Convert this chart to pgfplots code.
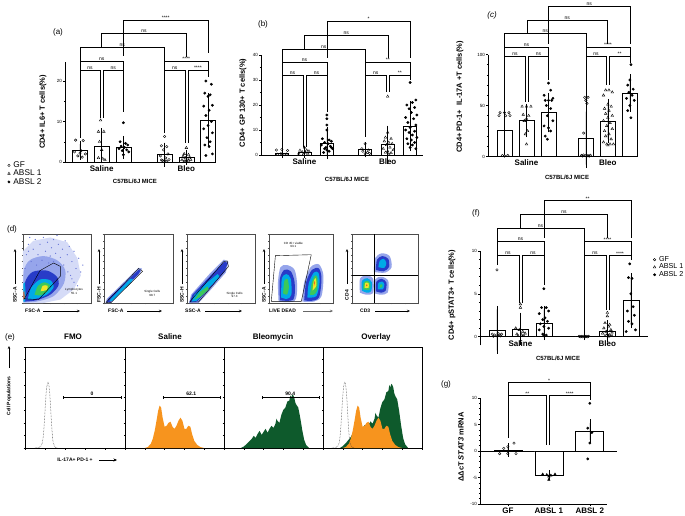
\documentclass[border=0pt]{standalone}
\usepackage{fontspec}
\setmainfont{Liberation Sans}
\usepackage{pgfplots}
\pgfplotsset{compat=1.18}
\usetikzlibrary{arrows.meta}
\definecolor{orng}{RGB}{247,148,30}
\definecolor{dgrn}{RGB}{14,90,44}
\definecolor{fjblue}{RGB}{40,60,200}
\definecolor{fjlight}{RGB}{150,165,235}
\definecolor{fjcyan}{RGB}{0,170,230}
\definecolor{fjgreen}{RGB}{60,200,90}
\definecolor{fjyellow}{RGB}{240,230,40}
\definecolor{fjred}{RGB}{240,90,30}
\newcommand\tk{\fontsize{4.5}{5}\selectfont}
\newcommand\sig{\fontsize{5}{5}\selectfont}
\newcommand\grp{\bfseries\fontsize{8}{8}\selectfont}
\newcommand\ylab{\bfseries\fontsize{7.5}{8}\selectfont}
\newcommand\mice{\bfseries\fontsize{6}{6}\selectfont}
\newcommand\pl{\fontsize{8}{8}\selectfont}
\newcommand\flab{\bfseries\fontsize{5}{5}\selectfont}
\newcommand\htitle{\bfseries\fontsize{8}{8}\selectfont}
\newcommand\tinyf{\fontsize{3}{3.4}\selectfont}
\newcommand\brk[6]{%
 \draw[line width=0.45pt] (#1,#4) -- (#1,#3) -- (#2,#3) -- (#2,#5);
 \node[font=\sig, above, inner sep=0.5pt] at ({(#1+#2)/2},#3) {#6};}
\pgfplotsset{
 prism/.style={scale only axis, clip=false, axis lines*=left,
  axis line style={line width=0.6pt}, tick align=outside,
  major tick length=2pt, minor tick length=1.2pt,
  tick style={black, line width=0.5pt},
  yticklabel style={font=\tk, inner sep=1pt},
  xticklabel style={font=\grp, inner sep=1.5pt},
  xtick style={draw=none},
  /pgf/number format/assume math mode=true,
  legend cell align=left,
  legend image code/.code={\draw[##1, only marks] plot coordinates {(3pt,0pt)}; \path[draw=none, fill=none] (0pt,-2pt) (7pt,2pt);},
  },
 barst/.style={ybar, bar width=#1, fill=white, draw=black, line width=0.6pt, forget plot,
   error bars/.cd, y dir=both, y explicit,
   error bar style={line width=0.5pt, black},
   error mark options={mark size=3.5pt, line width=0.5pt, black}},
 gf/.style={only marks, mark=o, mark size=1.25pt, mark options={line width=0.4pt, black}},
 ab1/.style={only marks, mark=triangle, mark size=1.5pt, mark options={line width=0.4pt, black}},
 ab2/.style={only marks, mark=*, mark size=1.2pt, mark options={black, fill=black}},
 flow/.style={scale only axis, xmin=0, xmax=100, ymin=0, ymax=100,
   axis line style={line width=0.35pt, black!70}, tick align=outside, tick pos=left,
   xtick={0,20,...,100}, ytick={0,20,...,100}, minor tick num=1,
   major tick length=1.3pt, minor tick length=0.8pt, tick style={black!70, line width=0.35pt},
   xticklabels={}, yticklabels={}},
 hist/.style={scale only axis, xmin=0, xmax=100, ymin=0, ymax=100,
   axis line style={line width=0.5pt, black}, tick align=outside, tick pos=left,
   xtick={0,20,...,100}, ytick={0,25,...,100}, minor x tick num=3, minor y tick num=1,
   major tick length=1.5pt, minor tick length=0.8pt, tick style={black, line width=0.4pt},
   xticklabels={}, yticklabels={}},
 leg/.style={legend style={draw=none, fill=none, font=\fontsize{8.3}{8.5}\selectfont,
   inner sep=0pt, nodes={inner sep=0.5pt}}},
}
\begin{document}
\begin{tikzpicture}
\useasboundingbox (0pt,0pt) rectangle (685pt,-516pt);
\fill[white] (0pt,0pt) rectangle (685pt,-516pt);

% ---------------- (a)
\begin{axis}[prism, leg, at={(65pt,-162pt)}, anchor=south west, width=150pt, height=100pt,
 xmin=-0.69, xmax=6.22, ymin=0, ymax=24.7, ytick={0,10,20}, minor y tick num=1,
 xtick={1,4.9}, xticklabels={Saline,Bleo},
 legend style={at={(-0.395,0.01)}, anchor=north west}]
\addplot[barst=15pt] coordinates {(0,2.9) +- (0,1.5) (1,4.0) +- (0,3.5) (2,3.6) +- (0,2.0)
 (3.9,1.8) +- (0,2.1) (4.9,1.1) +- (0,1.0) (5.9,10.4) +- (0,5.8)};
\addplot[gf] coordinates {(-0.2,5.4)(0.15,5.3)(-0.25,2.5)(0.05,2.8)(0.25,2.0)(-0.1,1.5)(0.1,1.2)(0.0,2.2)
 (3.9,6.3)(3.75,4.0)(4.0,3.8)(3.85,3.0)(4.05,2.0)(3.7,1.5)(3.95,1.0)(4.1,0.6)(3.8,0.4)(3.9,0.3)(4.0,0.2)(3.75,0.5)};
\addlegendentry{GF}
\addplot[ab1] coordinates {(0.95,10.3)(0.85,7.5)(1.1,7.5)(0.9,5.0)(1.0,3.0)(0.85,1.0)(1.15,0.5)(1.05,0.8)
 (4.9,3.5)(4.8,2.0)(5.0,1.8)(4.75,1.4)(5.05,1.2)(4.85,1.0)(4.95,0.8)(5.1,0.6)(4.7,0.5)(4.9,0.4)(5.0,0.3)(4.8,0.2)};
\addlegendentry{ABSL 1}
\addplot[ab2] coordinates {(2.0,9.7)(1.85,5.0)(2.1,4.6)(2.2,4.2)(1.9,3.9)(2.05,3.6)(1.8,3.3)(2.15,3.0)(1.95,2.8)(2.25,2.5)(2.0,1.8)
 (5.8,20.0)(6.05,19.2)(5.75,17.0)(6.0,16.6)(5.9,16.2)(6.1,14.0)(5.7,13.8)(5.95,12.8)(5.8,11.5)(6.05,10.0)(5.9,9.0)(5.7,8.2)(6.1,7.2)(5.85,6.0)(6.0,5.0)(5.75,4.2)(5.95,3.8)(6.1,2.0)(5.8,1.6)};
\addlegendentry{ABSL 2}
\end{axis}

% ---------------- (b)
\begin{axis}[prism, at={(261pt,-155pt)}, anchor=south west, width=162pt, height=100pt,
 xmin=-0.93, xmax=6.27, ymin=0, ymax=40, ytick={0,10,20,30,40}, minor y tick num=1,
 xtick={1,4.7}, xticklabels={Saline,Bleo}]
\addplot[barst=13pt] coordinates {(0,0.8) +- (0,0.6) (1,1.1) +- (0,0.9) (2,4.8) +- (0,5.0)
 (3.7,2.1) +- (0,1.6) (4.7,4.1) +- (0,6.3) (5.7,11.5) +- (0,8.5)};
\addplot[gf] coordinates {(-0.25,2.0)(0,2.2)(0.25,1.8)(-0.2,0.3)(0.1,0.2)(0.2,0.4)(-0.05,0.5)
 (3.7,4.5)(3.55,2.5)(3.85,2.0)(3.6,1.5)(3.8,1.0)(3.7,0.5)(3.9,0.6)};
\addplot[ab1] coordinates {(1.0,3.0)(0.8,1.8)(1.1,1.9)(1.2,1.5)(0.9,1.2)(1.05,1.0)(0.75,0.6)(1.15,0.5)(0.95,0.3)
 (4.7,23.4)(4.7,9.0)(4.6,7.0)(4.85,6.5)(4.55,5.5)(4.75,5.0)(4.9,4.5)(4.65,4.0)(4.8,3.0)(4.5,2.5)(4.95,2.0)(4.7,1.5)(4.6,1.0)(4.85,0.8)(4.75,0.3)};
\addplot[ab2] coordinates {(2.0,16.0)(2.0,14.5)(2.0,12.0)(2.0,10.0)(1.8,6.5)(2.1,6.0)(2.2,5.5)(1.9,5.0)(2.05,4.5)(1.75,4.0)(2.15,3.5)(1.95,3.0)(2.25,2.5)(2.0,2.0)(1.85,1.0)(2.1,1.5)(1.9,2.5)(2.2,3.0)
 (5.7,29.0)(5.95,22.0)(5.8,21.0)(5.55,20.0)(5.9,19.0)(5.65,18.5)(5.75,17.0)(6.0,16.0)(5.5,15.0)(5.85,14.5)(5.6,13.0)(5.95,12.0)(5.7,11.0)(5.5,10.0)(5.9,9.5)(5.65,9.0)(5.8,8.0)(6.0,7.0)(5.55,6.5)(5.75,6.0)(5.9,5.0)(5.6,4.5)(5.8,4.0)(5.7,3.0)(5.95,2.5)};
\end{axis}

% ---------------- (c)
\begin{axis}[prism, at={(488pt,-156.5pt)}, anchor=south west, width=150pt, height=102pt,
 xmin=-0.75, xmax=6.07, ymin=0, ymax=100, ytick={0,50,100}, minor y tick num=4,
 xtick={1,4.7}, xticklabels={Saline,Bleo}]
\addplot[barst=15pt] coordinates {(0,26) +- (0,21) (1,35.5) +- (0,13) (2,43) +- (0,16)
 (3.7,18) +- (0,26) (4.7,35) +- (0,18) (5.7,62) +- (0,15)};
\addplot[gf] coordinates {(-0.2,43)(0,43)(0.2,43)(-0.25,40)(0.05,40)(0.25,40)(-0.1,1)(0.15,1)(0,0.5)
 (3.65,58)(3.8,58)(3.7,55)(3.75,52)(3.6,23)(3.5,1)(3.6,1.5)(3.7,1)(3.8,0.8)(3.9,1.2)(3.55,0.5)(3.85,0.4)(3.75,0.6)};
\addplot[ab1] coordinates {(0.8,49)(1.0,49)(1.2,49)(0.85,41)(1.1,40)(1.0,37)(0.9,35)(1.05,25)(0.95,22)(1.0,12)
 (4.6,65)(4.75,65)(4.9,63)(4.5,60)(4.7,51)(4.85,49)(4.55,47)(4.75,45)(4.6,42)(4.9,40)(4.7,38)(4.5,35)(4.8,33)(4.65,30)(4.9,27)(4.55,25)(4.75,22)(4.6,20)(4.85,17)(4.5,14)(4.65,12)(4.8,12)(4.95,12)(4.7,11)};
\addplot[ab2] coordinates {(2.0,72)(2.1,65)(1.8,60)(2.2,57)(1.85,55)(2.0,55)(2.15,55)(1.9,50)(2.1,47)(1.95,40)(2.2,35)(1.8,30)(2.0,28)(2.1,25)(1.85,20)(1.95,17)
 (5.75,90)(5.7,75)(5.6,70)(5.85,66)(5.65,63)(5.8,60)(5.55,57)(5.9,55)(5.7,50)(5.6,45)(5.75,38)};
\end{axis}

% ---------------- (f)
\begin{axis}[prism, leg, at={(480pt,-345.3pt)}, anchor=south west, width=168pt, height=94.3pt,
 axis x line*=middle, axis y line*=left,
 xmin=-0.72, xmax=6.43, ymin=-1, ymax=10, ytick={0,5,10}, minor y tick num=4,
 xtick={1,4.7}, xticklabels={Saline,Bleo},
 legend style={at={(1.02,0.95)}, anchor=north west, font=\fontsize{7.2}{7.5}\selectfont}]
\addplot[barst=16pt] coordinates {(0,0.8) +- (0,2.4) (1,0.9) +- (0,1.5) (2,1.6) +- (0,1.6)
 (3.7,0.05) +- (0,0.05) (4.7,0.65) +- (0,0.85) (5.7,4.2) +- (0,2.8)};
\addplot[gf] coordinates {(0,7.8)(-0.2,0.3)(-0.1,0.2)(0,0.1)(0.1,0.2)(0.2,0.3)(-0.15,0.05)(0.15,0.1)(0.05,0.4)
 (3.5,0.05)(3.6,0.05)(3.7,0.05)(3.8,0.05)(3.9,0.05)(3.55,0.0)(3.65,0.0)(3.75,0.0)(3.85,0.0)};
\addlegendentry{GF}
\addplot[ab1] coordinates {(1.0,3.8)(1.0,3.4)(0.8,1.0)(0.95,0.8)(1.1,0.6)(1.2,0.4)(0.85,0.3)(1.05,0.2)(0.9,0.1)(1.15,0.1)
 (4.7,2.8)(4.7,2.4)(4.6,1.6)(4.8,1.4)(4.75,1.2)(4.55,1.0)(4.85,0.8)(4.65,0.6)(4.9,0.5)(4.5,0.4)(4.7,0.3)(4.8,0.2)(4.6,0.1)(4.9,0.1)(4.75,0.05)};
\addlegendentry{ABSL 1}
\addplot[ab2] coordinates {(2.0,5.6)(1.9,3.4)(2.1,3.4)(2.2,3.0)(1.8,2.7)(2.05,2.2)(1.95,2.0)(2.15,1.8)(1.85,1.5)(2.0,1.2)(2.2,1.0)(1.8,0.8)(1.95,0.3)(2.1,0.2)(2.0,0.1)
 (5.65,8.5)(5.6,6.9)(5.75,6.8)(5.7,5.0)(5.8,3.5)(5.55,3.0)(5.85,2.5)(5.6,1.8)(5.75,1.5)(5.9,0.8)(5.5,0.6)};
\addlegendentry{ABSL 2}
\end{axis}

% ---------------- (g)
\begin{axis}[prism, at={(480pt,-504pt)}, anchor=south west, width=127pt, height=106pt,
 xmin=-0.68, xmax=2.42, ymin=-10, ymax=10, ytick={-10,-5,0,5,10}, minor y tick num=4,
 xtick={0,1,2}, xticklabels={GF,ABSL 1,ABSL 2}, xtick style={draw=black}]
\addplot[black, line width=0.6pt, forget plot] coordinates {(-0.68,0) (2.66,0)};
\addplot[barst=28pt] coordinates {(0,0.2) +- (0,0.6) (1,-4.6) +- (0,0.3) (2,3.7) +- (0,1.6)};
\addplot[gf] coordinates {(0.15,1.5)(0.0,0.8)(-0.1,0.5)(-0.2,-0.5)(0.0,-0.5)(0.2,-0.5)};
\addplot[only marks, mark=triangle*, mark size=1.4pt, mark options={black}] coordinates {(0.85,-4.4)(0.95,-4.5)(1.05,-4.6)(1.15,-4.4)(1.0,-4.8)(1.0,-5.4)};
\addplot[ab2] coordinates {(2.0,9.0)(1.95,4.3)(2.05,3.5)(2.0,1.5)(1.95,-1.5)};
\end{axis}

% ---------------- (d) flow plots
\begin{axis}[flow, at={(23pt,-303pt)}, anchor=south west, width=68pt, height=69pt]
\addplot[fill=fjlight!40, draw=none] coordinates {(0,0)(0,75)(15,90)(40,95)(65,88)(80,65)(85,40)(75,20)(55,5)(30,0)(0,0)};
\addplot[only marks, mark=*, mark size=0.35pt, fjblue!70] coordinates {(5,70)(8,85)(12,60)(15,78)(18,92)(22,70)(25,85)(28,62)(30,95)(33,75)(36,88)(40,68)(42,80)(45,92)(48,72)(52,85)(55,66)(58,78)(62,90)(65,70)(68,82)(72,60)(75,75)(78,50)(82,65)(85,45)(88,55)(70,40)(75,30)(80,25)(10,95)(3,50)(60,55)(50,98)(38,58)(20,55)(45,60)(8,75)(66,45)(72,35)};
\addplot[fill=fjlight, draw=none, smooth] coordinates {(1,1)(1,45)(10,62)(30,68)(50,62)(62,48)(60,28)(45,10)(20,2)(1,1)};
\addplot[fill=fjblue, draw=none, smooth] coordinates {(2,2)(3,30)(14,45)(35,47)(50,38)(52,25)(40,12)(20,4)(2,2)};
\addplot[fill=fjcyan, draw=none, smooth] coordinates {(7,5)(12,22)(25,34)(40,33)(45,23)(35,12)(18,6)(7,5)};
\addplot[fill=fjgreen, draw=none, smooth] coordinates {(17,12)(22,25)(32,30)(40,25)(35,16)(25,11)(17,12)};
\addplot[fill=fjyellow, draw=none, smooth] coordinates {(26,17)(29,25)(36,25)(35,19)(26,17)};
\addplot[fill=fjcyan, draw=none] coordinates {(0.5,2)(0.5,28)(3,30)(4,10)(3,2)(0.5,2)};
\addplot[fill=fjred, draw=none] coordinates {(0.5,5)(0.5,16)(2,17)(2.5,6)(0.5,5)};
\addplot[black, line width=0.4pt] coordinates {(2,6)(25,47)(45,58)(55,53)(55,39)(23,5)(2,6)};
\node[font=\tinyf, align=center] at (axis cs:75,17) {Lymphocytes\\55.1};
\end{axis}

\begin{axis}[flow, at={(104pt,-303pt)}, anchor=south west, width=69pt, height=69pt]
\addplot[fill=fjlight, draw=none] coordinates {(2,0)(4,6)(50,51)(55,50)(53,44)(10,0)(2,0)};
\addplot[fill=fjblue, draw=none] coordinates {(4,1)(6,6)(50,48)(53,47)(50,42)(10,2)(4,1)};
\addplot[fill=fjcyan, draw=none] coordinates {(8,3)(10,6)(38,35)(42,35)(40,31)(12,3)(8,3)};
\addplot[black, line width=0.4pt] coordinates {(3,1)(50,50)(56,46)(10,0.5)(3,1)};
\node[font=\tinyf, align=center] at (axis cs:70,14) {Single Cells\\98.7};
\end{axis}

\begin{axis}[flow, at={(187pt,-303pt)}, anchor=south west, width=68pt, height=69pt]
\addplot[fill=fjlight, draw=none] coordinates {(3,0)(6,12)(33,42)(54,63)(61,60)(57,44)(32,16)(17,0)(3,0)};
\addplot[fill=fjblue, draw=none] coordinates {(4,1)(8,12)(35,40)(55,60)(60,58)(55,45)(30,18)(15,2)(4,1)};
\addplot[fill=fjcyan, draw=none] coordinates {(7,2)(11,12)(30,30)(45,42)(48,38)(30,20)(14,3)(7,2)};
\addplot[fill=fjgreen, draw=none] coordinates {(11,5)(19,16)(30,24)(32,20)(20,9)(11,5)};
\addplot[black, line width=0.4pt] coordinates {(4,1.5)(54,60)(59,61)(61,53)(17,1.5)(4,1.5)};
\node[font=\tinyf, align=center] at (axis cs:70,12) {Single Cells\\97.3};
\end{axis}

\begin{axis}[flow, at={(269pt,-303pt)}, anchor=south west, width=64pt, height=69pt]
\addplot[fill=fjlight, draw=none, smooth] coordinates {(15,2)(14,30)(18,52)(28,55)(40,48)(44,25)(40,3)(15,2)};
\addplot[fill=fjblue, draw=none, smooth] coordinates {(17,4)(17,35)(24,48)(34,46)(40,30)(38,5)(17,4)};
\addplot[fill=fjcyan, draw=none, smooth] coordinates {(19,8)(20,35)(27,42)(34,35)(35,12)(28,6)(19,8)};
\addplot[fill=fjgreen, draw=none, smooth] coordinates {(22,14)(24,32)(29,35)(31,22)(28,12)(22,14)};
\addplot[fill=fjlight, draw=none, smooth] coordinates {(52,2)(55,30)(65,52)(78,56)(85,40)(82,10)(70,2)(52,2)};
\addplot[fill=fjblue, draw=none, smooth] coordinates {(55,4)(58,30)(67,48)(78,50)(82,35)(78,8)(65,3)(55,4)};
\addplot[fill=fjcyan, draw=none, smooth] coordinates {(60,8)(62,28)(70,44)(77,44)(79,30)(74,10)(60,8)};
\addplot[fill=fjgreen, draw=none, smooth] coordinates {(64,12)(67,30)(72,40)(76,36)(75,18)(70,12)(64,12)};
\addplot[fill=fjyellow, draw=none, smooth] coordinates {(68,18)(70,32)(73,36)(74,25)(68,18)};
\addplot[fill=fjred, draw=none] coordinates {(70,24)(71,32)(72,30)(70,24)};
\addplot[black, line width=0.4pt] coordinates {(3.6,2.4)(10,68.6)(66,70)(50.5,2.4)(3.6,2.4)};
\node[font=\tinyf, align=center] at (axis cs:38,84) {CD 45+ viable\\93.1};
\end{axis}

\begin{axis}[flow, at={(352pt,-303pt)}, anchor=south west, width=66pt, height=69pt]
\addplot[fill=fjlight, draw=none, smooth] coordinates {(33,45)(35,65)(45,72)(57,68)(60,52)(50,44)(33,45)};
\addplot[fill=fjblue, draw=none, smooth] coordinates {(36,48)(38,63)(46,68)(55,64)(56,52)(48,46)(36,48)};
\addplot[fill=fjcyan, draw=none, smooth] coordinates {(40,52)(42,61)(48,64)(52,58)(49,51)(40,52)};
\addplot[fill=fjlight, draw=none, smooth] coordinates {(12,15)(12,35)(22,40)(32,35)(32,15)(22,12)(12,15)};
\addplot[fill=fjcyan, draw=none, smooth] coordinates {(15,18)(15,32)(23,36)(30,30)(29,17)(22,15)(15,18)};
\addplot[fill=fjgreen, draw=none, smooth] coordinates {(17,20)(18,30)(24,32)(28,27)(26,19)(17,20)};
\addplot[fill=fjyellow, draw=none, smooth] coordinates {(19,22)(20,29)(25,29)(25,22)(19,22)};
\addplot[fill=fjred, draw=none] coordinates {(21,24)(22,27)(24,26)(21,24)};
\addplot[fill=fjlight, draw=none, smooth] coordinates {(34,14)(35,34)(45,38)(55,32)(54,15)(44,12)(34,14)};
\addplot[fill=fjblue, draw=none, smooth] coordinates {(36,17)(37,31)(45,35)(52,30)(51,18)(44,15)(36,17)};
\addplot[fill=fjcyan, draw=none, smooth] coordinates {(39,20)(40,29)(46,31)(49,27)(47,20)(39,20)};
\addplot[fill=fjgreen, draw=none] coordinates {(42,22)(43,27)(46,27)(46,23)(42,22)};
\addplot[black, line width=0.4pt] coordinates {(33,0)(33,100)};
\addplot[black, line width=0.4pt] coordinates {(0,41)(100,41)};
\end{axis}

% ---------------- (e) histograms
\begin{axis}[hist, at={(25pt,-448pt)}, anchor=south west, width=100pt, height=101pt]
\addplot[black!80, densely dotted, line width=0.5pt, smooth] coordinates {(10,0)(14,0.5)(16,2)(17.5,6)(18.5,14)(19.5,28)(20.5,45)(21.5,58)(22.5,64)(23,65)(23.5,64)(24.5,57)(25.5,42)(26.5,25)(27.5,11)(28.5,4)(30,1)(33,0)};
\draw[{Bar[width=3pt]}-{Bar[width=3pt]}, line width=0.5pt] (axis cs:38,50) -- (axis cs:96,50) node[midway, above, font=\flab, inner sep=2pt] {0};
\end{axis}
\begin{axis}[hist, at={(125pt,-448pt)}, anchor=south west, width=99pt, height=101pt]
\addplot[fill=orng, draw=none] coordinates {(20,0)(23,1)(26,4)(28,9)(30,17)(32,28)(33.5,37)(35,42)(36.5,40)(38,30)(40,21)(42,22)(44,25)(46,26)(48,21)(50,19)(52,22)(54,27)(56,30)(58,27)(60,19)(62,19)(64,22)(66,21)(68,13)(70,7)(73,3)(76,1)(80,0)} \closedcycle;
\draw[{Bar[width=3pt]}-{Bar[width=3pt]}, line width=0.5pt] (axis cs:38,50) -- (axis cs:96,50) node[midway, above, font=\flab, inner sep=2pt] {62.1};
\end{axis}
\begin{axis}[hist, at={(224pt,-448pt)}, anchor=south west, width=99pt, height=101pt]
\addplot[fill=dgrn, draw=none] coordinates {(17,0)(20,1.5)(23,4)(26,7)(28,9)(30,12)(32,10)(34,14)(36,17)(38,13)(40,16)(42,19)(44,15)(46,19)(48,22)(50,20)(52,24)(53,29)(54,27)(56,25)(58,33)(60,38)(62,40)(64,46)(66,47)(67,52)(68,50)(69,53)(70,52)(71,50)(72,45)(73,43)(75,40)(77,30)(79,18)(81,8)(83,3)(86,0)} \closedcycle;
\draw[{Bar[width=3pt]}-{Bar[width=3pt]}, line width=0.5pt] (axis cs:38,50) -- (axis cs:96,50) node[midway, above, font=\flab, inner sep=2pt] {90.4};
\end{axis}
\begin{axis}[hist, at={(323pt,-448pt)}, anchor=south west, width=99pt, height=101pt]
\addplot[fill=dgrn, draw=none] coordinates {(17,0)(20,1.8)(23,4.8)(26,8.4)(28,10.8)(30,14.4)(32,12)(34,16.8)(36,20.4)(38,15.6)(40,19.2)(42,22.8)(44,18)(46,22.8)(48,26.4)(50,24)(52,28.8)(53,34.8)(54,32.4)(56,30)(58,39.6)(60,45.6)(62,48)(64,55.2)(66,56.4)(67,62.4)(68,60)(69,63.6)(70,62.4)(71,60)(72,54)(73,51.6)(75,48)(77,36)(79,21.6)(81,9.6)(83,3.6)(86,0)} \closedcycle;
\addplot[fill=orng, draw=none] coordinates {(20,0)(23,1)(26,4)(28,9)(30,17)(32,28)(33.5,37)(35,42)(36.5,40)(38,30)(40,21)(42,22)(44,25)(46,26)(48,21)(50,19)(52,22)(54,27)(56,30)(58,27)(60,19)(62,19)(64,22)(66,21)(68,13)(70,7)(73,3)(76,1)(80,0)} \closedcycle;
\addplot[black!80, densely dotted, line width=0.5pt, smooth] coordinates {(9,0)(13,0.5)(15,2)(16.5,6)(17.5,14)(18.5,28)(19.5,45)(20.5,58)(21.5,64)(22,65)(22.5,64)(23.5,57)(24.5,42)(25.5,25)(26.5,11)(27.5,4)(29,1)(32,0)};
\end{axis}

% ---------------- annotations
\begin{scope}[x=1pt, y=-1pt]
% (a) brackets
\brk{80}{100.2}{70.7}{138}{118}{ns}
\brk{103.2}{123.4}{70.7}{118}{112}{ns}
\brk{164.6}{184.8}{70.7}{133}{143}{ns}
\brk{187.8}{208}{70.7}{143}{77}{****}
\brk{80}{123.4}{61}{70.7}{70.7}{ns}
\brk{164.6}{208}{61}{70.7}{70.7}{****}
\brk{80}{164.6}{47.7}{61}{61}{ns}
\brk{101.7}{186.3}{33.3}{47.7}{57}{ns}
\brk{123.4}{208}{20}{56}{53}{****}
% (b)
\brk{282}{303}{75.7}{149}{147}{ns}
\brk{306}{327}{75.7}{147}{112}{ns}
\brk{365.3}{386.3}{75.7}{137}{92}{ns}
\brk{389.3}{410.3}{75.7}{92}{80}{**}
\brk{282}{327}{62.3}{75.7}{75.7}{ns}
\brk{365.3}{410.3}{62.3}{75.7}{75.7}{**}
\brk{282}{365.3}{49}{62.3}{62.3}{ns}
\brk{304.5}{387.8}{35}{49}{58}{ns}
\brk{327}{410.3}{21}{58}{58}{*}
% (c)
\brk{504.5}{525.5}{56.7}{107}{102}{ns}
\brk{528.5}{548.5}{56.7}{102}{80}{ns}
\brk{586}{606}{56.7}{108}{85}{ns}
\brk{609}{630}{56.7}{85}{63}{**}
\brk{504.5}{548.5}{47.7}{56.7}{56.7}{ns}
\brk{586}{630}{47.7}{56.7}{56.7}{****}
\brk{504.5}{586}{33.3}{47.7}{47.7}{ns}
\brk{527}{607.5}{20}{33.3}{44}{ns}
\brk{548.5}{630}{6}{44}{44}{ns}
% (f)
\brk{497}{519}{255.7}{265}{303}{ns}
\brk{522}{544}{255.7}{303}{285}{ns}
\brk{584}{606}{255.7}{333}{310}{ns}
\brk{609}{631}{255.7}{310}{260}{****}
\brk{497}{544}{241.7}{255.7}{255.7}{ns}
\brk{584}{631}{241.7}{255.7}{255.7}{****}
\brk{497}{584}{228.3}{241.7}{241.7}{ns}
\brk{520.5}{607.5}{214.3}{228.3}{238}{ns}
\brk{544}{631}{200.7}{238}{238}{**}
% (g)
\brk{508}{546.5}{395.7}{438}{445}{**}
\brk{549.5}{590}{395.7}{445}{400}{****}
\brk{508}{590}{382.7}{395.7}{395.7}{*}

% panel letters
\node[font=\pl] at (58,32) {(a)};
\node[font=\pl] at (263,24) {(b)};
\node[font=\pl\itshape] at (492,15) {(c)};
\node[font=\pl] at (12,229) {(d)};
\node[font=\pl] at (10,337) {(e)};
\node[font=\pl] at (476,213) {(f)};
\node[font=\pl] at (446,384) {(g)};

% y labels
\node[font=\ylab, rotate=90] at (43,112) {CD4+ IL6+ T cells(\%)};
\node[font=\ylab, rotate=90] at (243,103) {CD4+ GP 130+ T cells(\%)};
\node[font=\ylab, rotate=90] at (460,97) {CD4+ PD-1+\ \ IL-17A +T cells(\%)};
\node[font=\ylab, rotate=90] at (452,295) {CD4+ pSTAT3+ T cells(\%)};
\node[font=\ylab, rotate=90] at (461,447) {ΔΔcT \textit{STAT3} mRNA};

% MICE labels
\node[font=\mice] at (135,181) {C57BL/6J MICE};
\node[font=\mice] at (347,179) {C57BL/6J MICE};
\node[font=\mice] at (567,177) {C57BL/6J MICE};
\node[font=\mice] at (558,358) {C57BL/6J MICE};

% (d) axis labels
\foreach \xx/\lab in {15/SSC-A, 99/FSC-H, 182/SSC-H, 264/SSC-A, 347/CD4}{
  \node[font=\flab, rotate=90] at (\xx,295) {\lab};
  \draw[-{Stealth[length=3pt,width=2.5pt]}, line width=0.5pt] (\xx,284) -- (\xx,249);
}
\node[font=\flab, anchor=west, inner sep=0pt] at (25,311) {FSC-A};
\draw[-{Stealth[length=3pt,width=2.5pt]}, line width=0.5pt] (43,311) -- (80,311);
\node[font=\flab, anchor=west, inner sep=0pt] at (108,311) {FSC-A};
\draw[-{Stealth[length=3pt,width=2.5pt]}, line width=0.5pt] (127,311) -- (162,311);
\node[font=\flab, anchor=west, inner sep=0pt] at (185,311) {SSC-A};
\draw[-{Stealth[length=3pt,width=2.5pt]}, line width=0.5pt] (205,311) -- (242,311);
\node[font=\flab, anchor=west, inner sep=0pt] at (269,311) {LIVE DEAD};
\draw[-{Stealth[length=3pt,width=2.5pt]}, line width=0.5pt, black!60] (303,311) -- (333,311);
\node[font=\flab, anchor=west, inner sep=0pt] at (360,311) {CD3};
\draw[-{Stealth[length=3pt,width=2.5pt]}, line width=0.5pt] (375,311) -- (410,311);

% (e) titles and labels
\node[font=\htitle] at (73,337) {FMO};
\node[font=\htitle] at (170,337) {Saline};
\node[font=\htitle] at (273,337) {Bleomycin};
\node[font=\htitle] at (376,337) {Overlay};
\node[font=\flab, rotate=90] at (9,396) {Cell Populations};
\draw[-{Stealth[length=3pt,width=2.5pt]}, line width=0.5pt] (9,368) -- (9,346);
\node[font=\flab] at (75,460) {IL-17A+ PD-1 +};
\draw[-{Stealth[length=3.5pt,width=3pt]}, line width=0.5pt] (99,460) -- (117,460);
\end{scope}
\end{tikzpicture}
\end{document}
